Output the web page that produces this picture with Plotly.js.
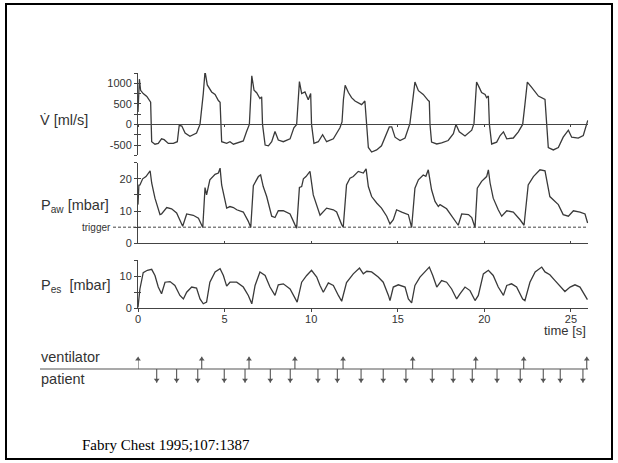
<!DOCTYPE html>
<html>
<head>
<meta charset="utf-8">
<script src="https://cdn.plot.ly/plotly-3.0.1.min.js"></script>
<style>html,body{margin:0;padding:0;background:#fff;}#chart{width:618px;height:463px;}</style>
</head>
<body>
<div id="chart"></div>
<script>
// ---------------- DATA ----------------
// Flow V' [ml/s]
var flowT = [0.00,0.08,0.15,0.30,0.51,0.66,0.73,0.79,0.98,1.17,1.36,1.51,1.75,2.04,2.27,2.38,2.53,2.72,3.00,3.38,3.58,3.77,3.87,4.00,4.25,4.45,4.64,4.74,4.83,5.12,5.31,5.51,5.79,6.08,6.27,6.43,6.57,6.70,6.85,7.04,7.14,7.19,7.34,7.53,7.72,7.91,8.10,8.39,8.78,9.00,9.16,9.32,9.45,9.64,9.83,9.97,10.02,10.16,10.41,10.66,10.89,11.28,11.66,11.78,11.86,11.96,12.15,12.33,12.53,12.72,12.91,13.10,13.21,13.30,13.49,13.78,14.06,14.26,14.51,14.65,14.84,15.13,15.42,15.70,15.86,15.99,16.19,16.47,16.76,16.82,16.86,16.95,17.25,17.53,17.91,18.21,18.36,18.55,18.88,19.27,19.40,19.55,19.70,19.84,20.04,20.13,20.23,20.29,20.42,20.71,20.91,21.10,21.29,21.67,21.96,22.21,22.34,22.48,22.73,23.12,23.50,23.59,23.69,23.98,24.27,24.55,24.85,25.04,25.42,25.71,25.91,25.97];
var flowV = [300,1100,830,750,680,580,540,-420,-480,-460,-350,-370,-460,-460,-420,-20,-40,-210,-290,-210,0,750,1290,960,790,730,580,540,-420,-460,-420,-480,-440,-400,-170,0,1180,830,770,630,670,0,-500,-520,-420,-170,-380,-420,-350,-80,0,1040,750,790,600,750,0,-460,-420,-250,-420,-350,-80,60,600,950,775,650,570,525,480,570,0,-560,-670,-620,-520,-310,-60,-60,-310,-390,-330,20,570,1030,820,730,580,560,0,-430,-475,-450,-390,-225,0,-180,-280,-140,25,1030,900,775,730,650,690,0,-475,-430,-270,-180,-350,-330,-180,0,480,1030,900,690,610,0,-560,-620,-560,-310,-140,-310,-330,-270,25,100];

// Airway pressure Paw [mbar]
var pawT = [0.00,0.05,0.11,0.27,0.46,0.70,0.79,0.98,1.27,1.36,1.66,1.94,2.23,2.58,2.81,3.19,3.49,3.74,3.87,3.96,4.15,4.45,4.64,4.74,4.83,5.12,5.31,5.51,5.70,6.08,6.37,6.51,6.66,6.81,6.95,7.08,7.23,7.43,7.72,7.91,8.10,8.39,8.78,9.06,9.16,9.32,9.45,9.55,9.70,9.93,9.99,10.12,10.51,10.89,11.28,11.47,11.76,11.85,12.04,12.24,12.43,12.72,13.01,13.17,13.30,13.49,13.78,14.06,14.36,14.55,14.74,14.93,15.23,15.61,15.80,15.99,16.19,16.47,16.62,16.76,16.95,17.15,17.34,17.44,17.82,18.21,18.49,18.69,19.08,19.27,19.46,19.59,19.84,20.13,20.23,20.33,20.51,20.80,21.00,21.29,21.67,22.06,22.29,22.53,22.83,23.21,23.50,23.78,24.27,24.55,24.85,25.14,25.52,25.81,25.96];
var pawV = [12,18,18.1,20,20.7,22.5,18.7,14,8.9,9.1,11.1,10.7,9.4,5.3,9.1,8.7,7.8,4.9,17.3,15,19.7,21.4,21.8,23.3,18.1,10.9,11.4,11.1,10.4,9.7,6.8,4.9,17.9,19.2,20.7,21.2,17.6,14.5,8.4,8,10.1,10.1,9.1,5.8,4.7,17.3,17.6,20,20.7,22.3,20.2,15,8.7,10.9,10.4,9.7,5.8,5.0,18.1,20.2,20.7,22.3,21.8,23.1,17.6,14.5,12.5,10.9,8.4,6,7.3,10.4,9.7,8.9,4.9,17.1,19.7,21.2,20.8,22.8,16.6,13,11.4,12,10.7,7.8,5.6,9.1,8.9,8,4.9,17.1,19.2,20.7,22.8,18.7,14,10.4,8.4,10.1,9.7,7.3,5.6,18.1,20.7,22.8,22.5,14.5,12,8.9,8.4,10.1,9.7,9.1,6.3];
var triggerLevel = 5;

// Oesophageal pressure Pes [mbar]
var pesT = [0.00,0.11,0.30,0.54,0.79,0.98,1.17,1.36,1.56,1.85,2.13,2.42,2.62,2.81,3.10,3.38,3.58,3.77,3.96,4.15,4.45,4.74,4.93,5.12,5.31,5.70,6.08,6.37,6.57,6.76,7.04,7.34,7.62,7.91,8.10,8.39,8.78,9.06,9.19,9.45,9.74,10.02,10.32,10.51,10.70,10.99,11.28,11.57,11.76,12.04,12.43,12.79,13.01,13.21,13.49,13.87,14.16,14.46,14.55,14.74,15.03,15.42,15.61,15.80,15.99,16.28,16.57,16.82,17.02,17.25,17.53,17.82,18.11,18.40,18.59,18.88,19.17,19.46,19.65,19.94,20.23,20.51,20.80,21.10,21.29,21.57,21.86,22.21,22.34,22.63,22.93,23.31,23.50,23.78,24.08,24.36,24.65,24.95,25.23,25.52,25.81,25.95];
var pesV = [0.3,6,11.1,11.8,12.1,10.2,6.6,4.5,8.1,8.3,7.1,4,2.9,5,6.6,6.3,2.9,1.4,1.9,8.1,11.3,12.3,10.2,6.9,8.1,8.1,6.6,4,1.4,7.1,11.3,10.2,6.6,4,7.3,7.6,6,2.9,1.9,8.1,10.2,11.8,9.7,7.1,5,7.9,7.1,4,2.2,8.0,10.7,12.5,10.7,11.5,11.3,9.7,8.1,4,2.4,6.6,7.3,6.6,2.9,1.7,7.1,9.7,11.3,12.8,10.2,6.6,8.6,8.1,6,2.9,4.5,6.6,5.5,2.4,4,10.7,11.8,10.2,6.6,4,7.1,7.6,6.6,2.9,2.4,8.1,11.3,12.8,11.3,10.4,8.6,6.9,5.2,6.6,7.3,6.6,4,2.7];

// Trigger events [s]
var ventilatorT = [0.00,3.68,6.41,9.06,11.84,15.86,19.50,22.27,25.91];
var patientT = [1.08,2.23,3.45,4.98,6.18,7.64,8.79,10.39,11.51,12.88,14.16,15.47,16.99,18.20,19.30,20.73,22.07,23.40,24.38,25.69];

// Axis ticks
var timeTicks = [0,5,10,15,20,25];
var flowTicks = [-750,-500,-250,0,250,500,750,1000,1250];
var flowTickText = [' ','-500',' ','0',' ','500',' ','1000',' '];
var pawTicks = [0,5,10,15,20,25];
var pawTickText = ['0',' ','10',' ','20',' '];
var pesTicks = [0,5,10,15];
var pesTickText = ['0',' ','10',' '];

// ---------------- LAYOUT ----------------
var W = 618, H = 463;
function fx(p){return p/W;}
function fy(p){return 1 - p/H;}
var XD = [fx(138), fx(588.3)];
var XR = [0, 26];
var FR = [-750, 1250], PR = [0, 25], ER = [0, 15], VR = [-1.5, 1.5];
var FD = [fy(155.3), fy(73)];
var PD = [fy(243.3), fy(162.7)];
var ED = [fy(308.3), fy(260)];
var VD = [fy(388.5), fy(349.5)];
var zeroPos = FD[0] + (0 - FR[0]) / (FR[1] - FR[0]) * (FD[1] - FD[0]);

var ink = '#3a3a3a', axc = '#444';
var sans = 'Liberation Sans, Arial, Helvetica, sans-serif';
var lineStyle = {color: ink, width: 1.3};

function nullTrace(xa, ya){
  return {x:[null], y:[null], xaxis:xa, yaxis:ya, mode:'markers', hoverinfo:'skip', showlegend:false};
}
function stems(ts, len){
  var xs = [], ys = [];
  ts.forEach(function(t){ xs.push(t, t, null); ys.push(0, len, null); });
  return {x:xs, y:ys};
}
var vs = stems(ventilatorT, 0.95), ps = stems(patientT, -1.05);

var data = [
  {x: flowT, y: flowV, xaxis:'x3', yaxis:'y', mode:'lines', line: lineStyle, hoverinfo:'skip'},
  {x: pawT, y: pawV, xaxis:'x2', yaxis:'y2', mode:'lines', line: lineStyle, hoverinfo:'skip'},
  {x: pesT, y: pesV, xaxis:'x', yaxis:'y3', mode:'lines', line: lineStyle, hoverinfo:'skip'},
  {x: vs.x, y: vs.y, xaxis:'x', yaxis:'y4', mode:'lines', line:{color:'#555', width:1.1}, hoverinfo:'skip'},
  {x: ps.x, y: ps.y, xaxis:'x', yaxis:'y4', mode:'lines', line:{color:'#555', width:1.1}, hoverinfo:'skip'},
  {x: ventilatorT, y: ventilatorT.map(function(){return 0.75;}), xaxis:'x', yaxis:'y4', mode:'markers',
   marker:{symbol:'triangle-up', size:5, color:'#555'}, cliponaxis:false, hoverinfo:'skip'},
  {x: patientT, y: patientT.map(function(){return -0.85;}), xaxis:'x', yaxis:'y4', mode:'markers',
   marker:{symbol:'triangle-down', size:5, color:'#555'}, cliponaxis:false, hoverinfo:'skip'},
  nullTrace('x3','y5'), nullTrace('x2','y6'), nullTrace('x','y7')
];

var tickFont = {family: sans, size: 11, color: '#333'};
function yMain(dom, rng, anchor, vals, txt){
  return {domain: dom, range: rng, anchor: anchor, showline:true, linecolor: axc, linewidth:1,
    ticks:'outside', ticklen:3, tickcolor: axc, tickwidth:1, tickmode:'array', tickvals: vals, ticktext: txt,
    tickfont: tickFont, showgrid:false, zeroline:false, fixedrange:true};
}
function yOver(over, rng, anchor, vals){
  return {overlaying: over, range: rng, anchor: anchor, showline:false, ticks:'inside', ticklen:3,
    tickcolor: axc, tickwidth:1, tickmode:'array', tickvals: vals, showticklabels:false,
    showgrid:false, zeroline:false, fixedrange:true};
}
function xAx(anchor, ticks, len, labels){
  return {domain: XD, range: XR, anchor: anchor, showline:true, linecolor: axc, linewidth:1,
    ticks: ticks, ticklen: len, tickcolor: axc, tickmode:'array', tickvals: timeTicks,
    showticklabels: labels, tickfont: tickFont, showgrid:false, zeroline:false, fixedrange:true};
}

var xa1 = xAx('y3', 'outside', 3, true); xa1.ticklabelstandoff = -3;
var xa3 = xAx('free', 'outside', 2, false); xa3.position = zeroPos;

var layout = {
  width: W, height: H, margin:{l:0, r:0, t:0, b:0},
  paper_bgcolor:'#fff', plot_bgcolor:'rgba(0,0,0,0)', showlegend:false,
  xaxis: xa1,
  xaxis2: xAx('y2', 'inside', 2, false),
  xaxis3: xa3,
  yaxis: yMain(FD, FR, 'x3', flowTicks, flowTickText),
  yaxis2: yMain(PD, PR, 'x2', pawTicks, pawTickText),
  yaxis3: yMain(ED, ER, 'x', pesTicks, pesTickText),
  yaxis4: {domain: VD, range: VR, anchor:'x', visible:false, fixedrange:true},
  yaxis5: yOver('y', FR, 'x3', flowTicks),
  yaxis6: yOver('y2', PR, 'x2', pawTicks),
  yaxis7: yOver('y3', ER, 'x', pesTicks),
  shapes: [
    {type:'rect', xref:'paper', yref:'paper', x0: fx(6), x1: fx(612), y0: fy(459), y1: fy(4),
     line:{color:'#000', width:2}, fillcolor:'rgba(0,0,0,0)'},
    {type:'line', xref:'paper', yref:'y2', x0: fx(113), x1: fx(588), y0: triggerLevel, y1: triggerLevel,
     line:{color: axc, width:1, dash:'3px,2px'}},
    {type:'line', xref:'paper', yref:'y4', x0: fx(40), x1: fx(588), y0: 0, y1: 0,
     line:{color:'#555', width:1.2}}
  ],
  annotations: [
    {text:'V\u0307 [ml/s]', xref:'paper', yref:'paper', x: fx(38), y: fy(120), xanchor:'left', yanchor:'middle',
     showarrow:false, font:{family: sans, size:14.5, color:'#333'}},
    {text:'P<sub>aw</sub> [mbar]', xref:'paper', yref:'paper', x: fx(39), y: fy(206), xanchor:'left', yanchor:'middle',
     showarrow:false, font:{family: sans, size:14.5, color:'#333'}},
    {text:'P<sub>es</sub>  [mbar]', xref:'paper', yref:'paper', x: fx(39), y: fy(286), xanchor:'left', yanchor:'middle',
     showarrow:false, font:{family: sans, size:14.5, color:'#333'}},
    {text:'trigger', xref:'paper', yref:'y2', x: fx(113), y: triggerLevel, xanchor:'right', yanchor:'middle',
     showarrow:false, font:{family: sans, size:10, color:'#333'}},
    {text:'time [s]', xref:'paper', yref:'paper', x: fx(588), y: fy(330), xanchor:'right', yanchor:'middle',
     showarrow:false, font:{family: sans, size:13, color:'#333'}},
    {text:'ventilator', xref:'paper', yref:'paper', x: fx(39), y: fy(357), xanchor:'left', yanchor:'middle',
     showarrow:false, font:{family: sans, size:14.5, color:'#333'}},
    {text:'patient', xref:'paper', yref:'paper', x: fx(39), y: fy(379), xanchor:'left', yanchor:'middle',
     showarrow:false, font:{family: sans, size:14.5, color:'#333'}},
    {text:'Fabry Chest 1995;107:1387', xref:'paper', yref:'paper', x: fx(80), y: fy(445), xanchor:'left', yanchor:'middle',
     showarrow:false, font:{family:'Liberation Serif, Times New Roman, serif', size:15, color:'#000'}}
  ]
};

Plotly.newPlot('chart', data, layout, {staticPlot:true, displayModeBar:false});
</script>
</body>
</html>
